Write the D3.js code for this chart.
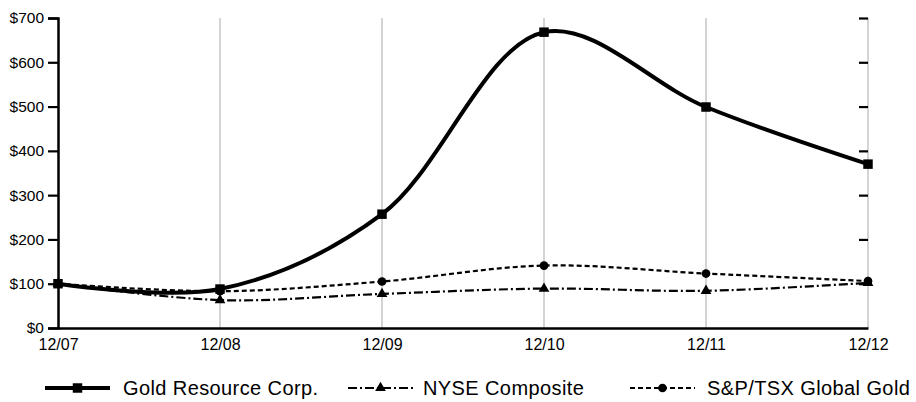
<!DOCTYPE html>
<html><head><meta charset="utf-8">
<script src="https://cdn.jsdelivr.net/npm/d3@7"></script>
<style>body{margin:0;background:#fff}svg{display:block}text{font-family:"Liberation Sans",Arial,sans-serif;fill:#000}</style>
</head><body><svg id="c" width="916" height="402"></svg>
<script>
const categories = ["12/07","12/08","12/09","12/10","12/11","12/12"];
const goldResource = [100, 88, 257, 668, 499, 370];
const nyseComposite = [100, 63, 77, 89, 84, 102];
const spTsxGold = [100, 83, 105, 141, 123, 106];
const yTicks = [0,100,200,300,400,500,600,700];
const seriesNames = ["Gold Resource Corp.","NYSE Composite","S&P/TSX Global Gold"];

const svg = d3.select("#c");
const L = 58, R = 868, T = 18, B = 328;
const x = d3.scalePoint().domain(categories).range([L, R]);
const y = d3.scaleLinear().domain([0, 700]).range([B, T]);

// gridlines
svg.append("g").selectAll("line").data(categories.slice(1)).join("line")
  .attr("x1", d => x(d)).attr("x2", d => x(d)).attr("y1", T).attr("y2", B)
  .attr("stroke", "#bdbdbd").attr("stroke-width", 1.3);

// left axis
const ya = svg.append("g").attr("transform", `translate(${L},0)`)
  .call(d3.axisLeft(y).tickValues(yTicks).tickFormat(d => "$" + d).tickSize(10).tickPadding(4));
ya.select(".domain").attr("stroke", "#000").attr("stroke-width", 2.5);
ya.selectAll(".tick line").attr("stroke", "#000").attr("stroke-width", 2.2);
ya.selectAll(".tick text").style("font-size", "15.5px").attr("font-family", null);

// right ticks
const yr = svg.append("g").attr("transform", `translate(${R},0)`)
  .call(d3.axisLeft(y).tickValues(yTicks.slice(1)).tickFormat("").tickSize(9));
yr.select(".domain").remove();
yr.selectAll(".tick line").attr("stroke", "#000").attr("stroke-width", 2.2);

// bottom axis
const xa = svg.append("g").attr("transform", `translate(0,${B})`)
  .call(d3.axisBottom(x).tickSize(0).tickPadding(11));
xa.select(".domain").attr("stroke", "#000").attr("stroke-width", 2.5);
xa.selectAll(".tick text").style("font-size", "16px").attr("font-family", null);

const curve = d3.curveCatmullRom.alpha(0.5);
const mk = vals => d3.line().x((d,i) => x(categories[i])).y(d => y(d)).curve(curve)(vals);

svg.append("path").attr("d", mk(spTsxGold)).attr("fill","none").attr("stroke","#000")
  .attr("stroke-width",2.2).attr("stroke-dasharray","5,3");
svg.append("path").attr("d", mk(nyseComposite)).attr("fill","none").attr("stroke","#000")
  .attr("stroke-width",2.2).attr("stroke-dasharray","9,3,2,3");
svg.append("path").attr("d", mk(goldResource)).attr("fill","none").attr("stroke","#000")
  .attr("stroke-width",4);

const sym = (type, size) => d3.symbol().type(type).size(size)();
svg.append("g").selectAll("path").data(spTsxGold).join("path")
  .attr("transform",(d,i)=>`translate(${x(categories[i])},${y(d)})`).attr("d", sym(d3.symbolCircle, 60));
svg.append("g").selectAll("path").data(nyseComposite).join("path")
  .attr("transform",(d,i)=>`translate(${x(categories[i])},${y(d)})`).attr("d", sym(d3.symbolTriangle, 50));
svg.append("g").selectAll("path").data(goldResource).join("path")
  .attr("transform",(d,i)=>`translate(${x(categories[i])},${y(d)})`).attr("d", sym(d3.symbolSquare, 90));

// legend
const lg = svg.append("g");
const items = [
  {x0:45, x1:110, tx:123, w:4, dash:null, s:d3.symbolSquare, ss:90},
  {x0:348, x1:413, tx:423, w:2.2, dash:"9,3,2,3", s:d3.symbolTriangle, ss:50},
  {x0:630, x1:695, tx:707, w:2.2, dash:"5,3", s:d3.symbolCircle, ss:60}
];
const ly = 388;
items.forEach((it, i) => {
  lg.append("line").attr("x1", it.x0).attr("x2", it.x1).attr("y1", ly).attr("y2", ly)
    .attr("stroke","#000").attr("stroke-width", it.w).attr("stroke-dasharray", it.dash);
  lg.append("path").attr("transform", `translate(${(it.x0+it.x1)/2},${ly})`).attr("d", sym(it.s, it.ss));
  lg.append("text").attr("x", it.tx).attr("y", ly).attr("dy","0.35em")
    .style("font-size","20px").style("letter-spacing","0.4px").text(seriesNames[i]);
});
</script></body></html>
